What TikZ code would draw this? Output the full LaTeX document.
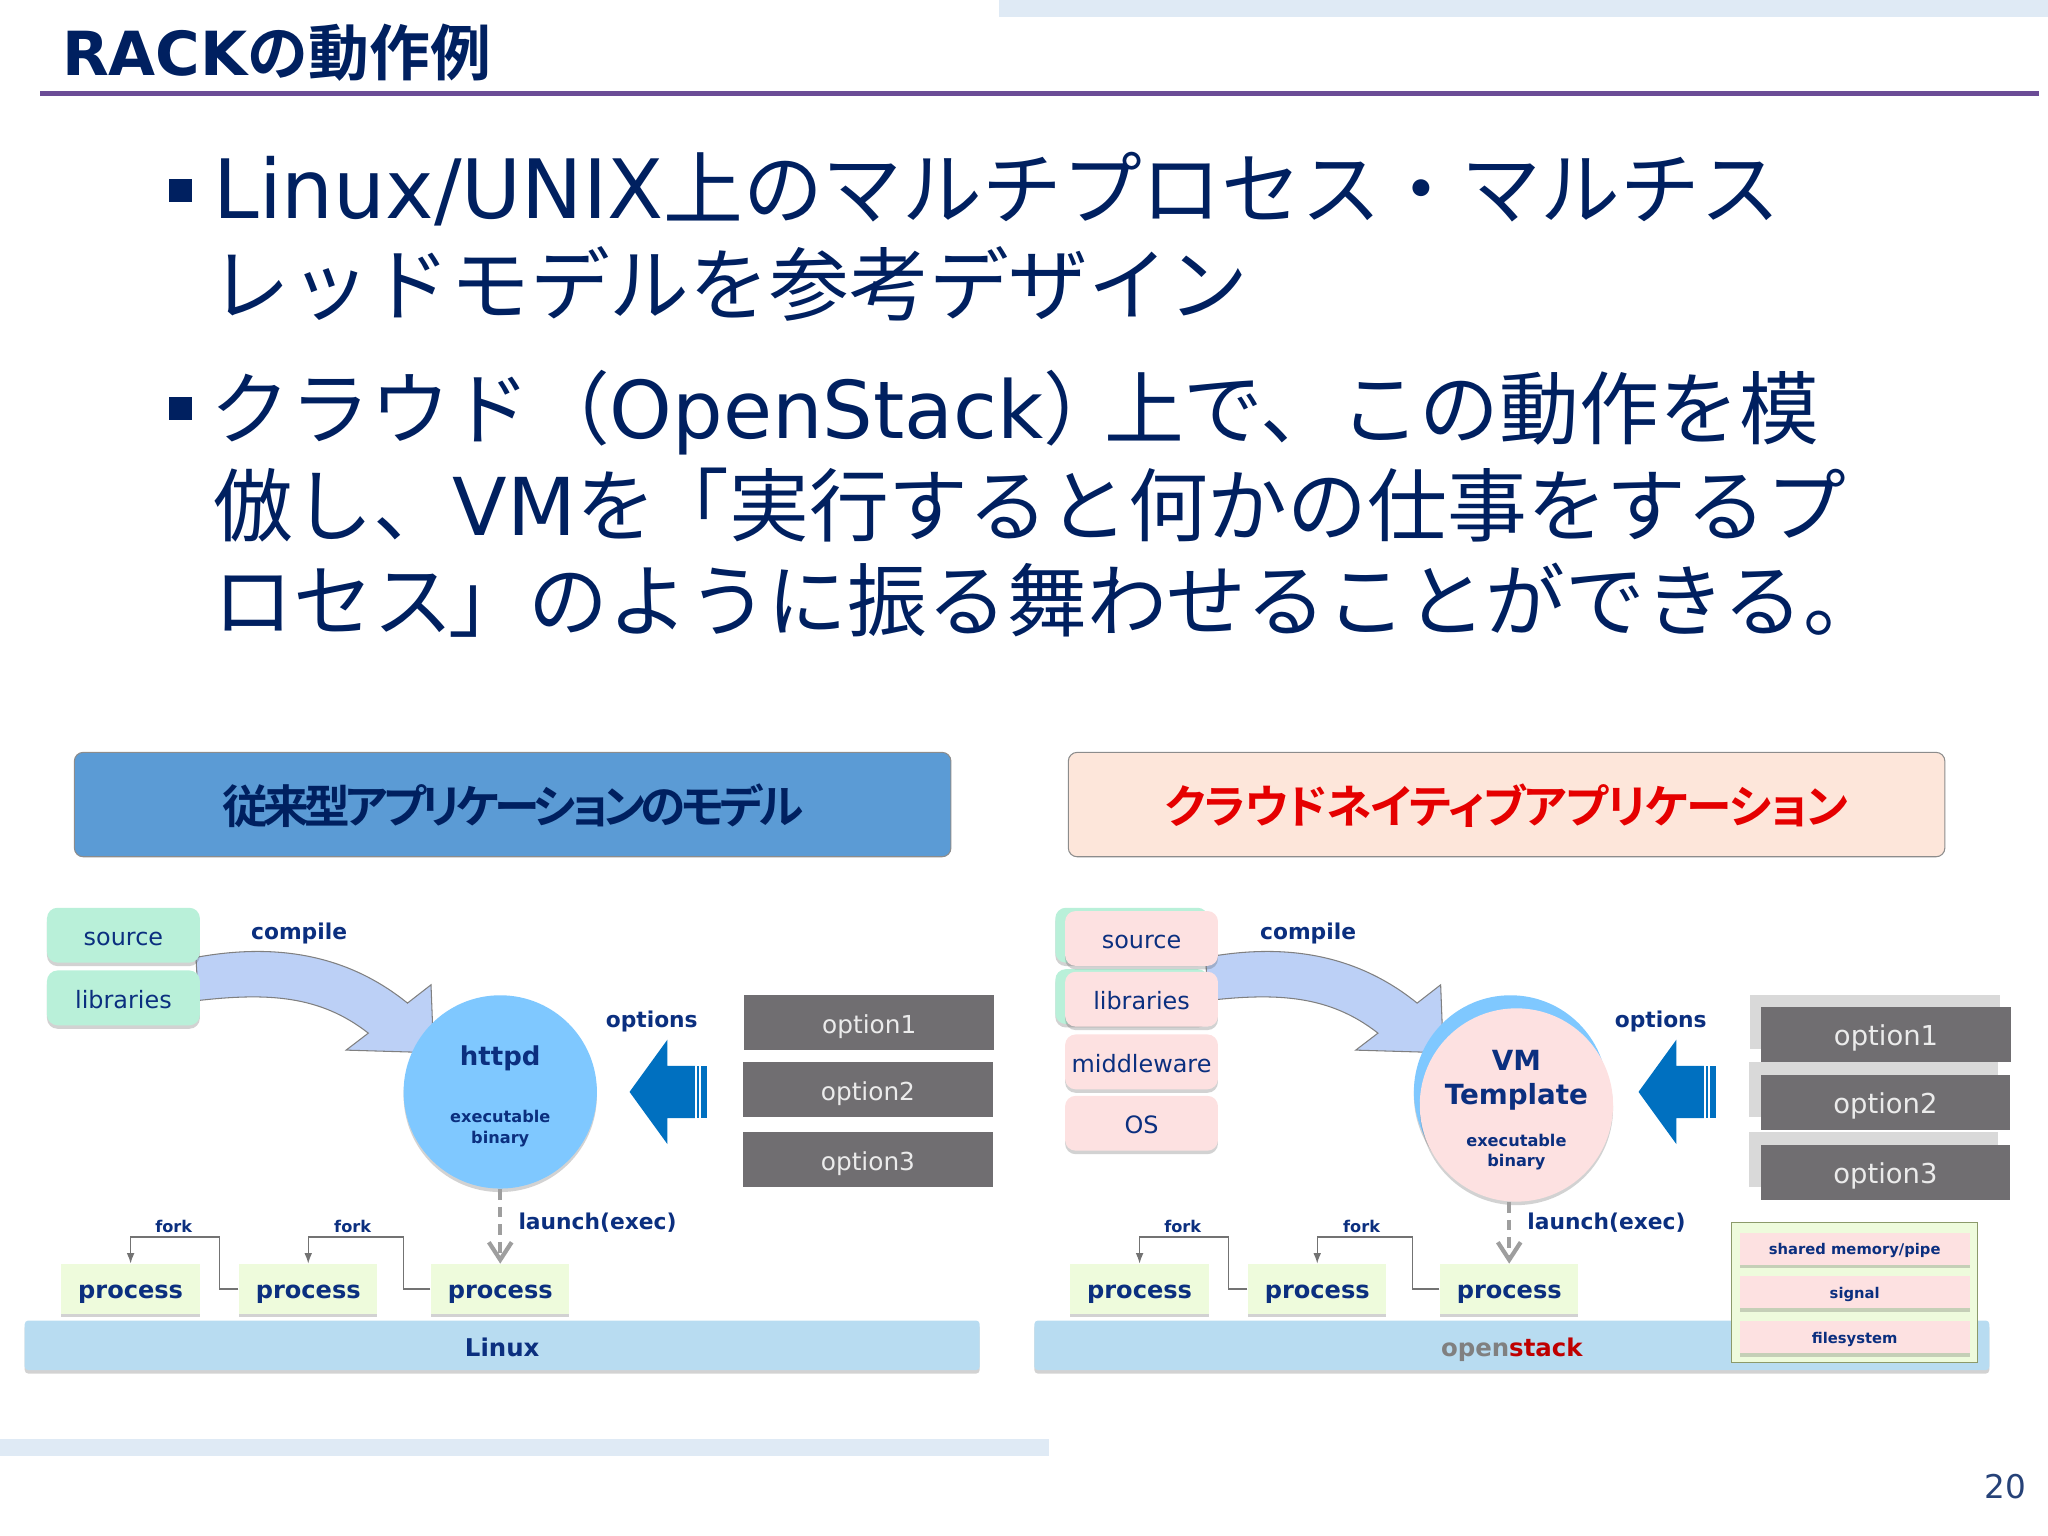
\documentclass[tikz,border=0pt]{standalone}
\usepackage{fontspec}
\usetikzlibrary{arrows.meta,shadows}
\setmainfont{DejaVu Sans}
\newfontfamily\cjk[BoldFont={Noto Sans CJK JP Bold}]{Noto Sans CJK JP}
\newfontfamily\cjkp[RawFeature=+palt,BoldFont={Noto Sans CJK JP Bold}]{Noto Sans CJK JP}
\definecolor{navy}{HTML}{002060}
\definecolor{ink}{HTML}{0B2F7F}
\definecolor{band}{HTML}{DFEAF5}
\definecolor{rule}{HTML}{6B4C96}
\definecolor{headblue}{HTML}{5B9BD5}
\definecolor{headpink}{HTML}{FDE6DA}
\definecolor{mint}{HTML}{B9F0D9}
\definecolor{pinkbox}{HTML}{FDE1E1}
\definecolor{sprout}{HTML}{EEFBDC}
\definecolor{sky}{HTML}{7FC8FF}
\definecolor{arrowfill}{HTML}{BCD0F6}
\definecolor{optdark}{HTML}{706E71}
\definecolor{optlight}{HTML}{D9D9D9}
\definecolor{arrowblue}{HTML}{0070C0}
\definecolor{osbar}{HTML}{B8DCF1}
\definecolor{olive}{HTML}{8C9A6A}
\begin{document}
\begin{tikzpicture}[>=latex, x=0.0130612cm, y=-0.0130612cm,
        softshadow/.style={drop shadow={shadow xshift=0pt, shadow yshift=-1pt, opacity=.25, fill=black!70}},
        bodyline/.style={anchor=base west, inner sep=0pt, text=navy, font=\fontsize{22.7}{26}\selectfont},
        bullet/.style={fill=navy, inner sep=0pt, minimum size=6.5pt},
        headbox/.style={draw=black!45, line width=.3pt, rounded corners=2.5pt, minimum width=249.4pt, minimum height=29.7pt, text height=11pt, text depth=0pt, font=\cjkp\bfseries\fontsize{13}{15}\selectfont},
        srcbox/.style={fill=mint, rounded corners=3pt, minimum width=43.5pt, minimum height=15.6pt, inner sep=0pt, text height=6pt, text depth=0pt, text=ink, font=\fontsize{6.8}{8}\selectfont, softshadow},
        pinksrc/.style={srcbox, fill=pinkbox},
        optbox/.style={fill=optdark, minimum width=71pt, minimum height=15.6pt, inner sep=0pt, text height=6.2pt, text depth=0pt, text=white!92!black, font=\fontsize{7.05}{8}\selectfont},
        optback/.style={fill=optlight, minimum width=71pt, minimum height=15.6pt, inner sep=0pt},
        bigopt/.style={optbox, font=\fontsize{7.8}{9}\selectfont},
        procbox/.style={fill=sprout, minimum width=39.4pt, minimum height=14.1pt, inner sep=0pt, text height=5.5pt, text depth=0pt, text=ink, font=\bfseries\fontsize{6.85}{8}\selectfont, softshadow},
        osbox/.style={fill=osbar, rounded corners=1pt, minimum width=271.7pt, minimum height=14.1pt, inner sep=0pt, text height=6.2pt, text depth=0pt, text=ink, font=\bfseries\fontsize{6.95}{8}\selectfont, softshadow},
        disc/.style={circle, fill=sky, minimum size=55pt, inner sep=0pt, softshadow},
        ipcbox/.style={fill=pinkbox, minimum width=65.4pt, minimum height=9.1pt, inner sep=0pt, text height=3.3pt, text depth=0pt, text=ink, font=\bfseries\fontsize{4.2}{5}\selectfont, softshadow},
        biglabel/.style={text=ink, inner sep=0pt, font=\bfseries\fontsize{6.2}{7}\selectfont},
        smalllabel/.style={text=ink, inner sep=0pt, font=\bfseries\fontsize{4.6}{6}\selectfont},
        forkline/.style={draw=black!55, line width=.4pt, -{Latex[length=3pt, width=2.2pt]}},
        launchline/.style={draw=black!38, line width=1.2pt, dash pattern=on 3pt off 2pt, -{Straight Barb[length=5pt, width=6.5pt]}},
        bendarrow/.style={fill=arrowfill, draw=black!50, line width=.3pt}]
    \useasboundingbox (0, 0) rectangle (1568, 1176);
    % title and bands
    \fill[band] (765, 0) rectangle (1568, 13);
    \fill[band] (0, 1102) rectangle (803, 1115);
    \node[anchor=base west, inner sep=0pt, text=navy, font=\bfseries\fontsize{17.3}{20}\selectfont](title) at (47, 58){RACK{\cjk の動作例}};
    \fill[rule] (31, 70) rectangle (1561, 73.5);
    \node[text=navy!85!white, inner sep=0pt, font=\fontsize{9.3}{11}\selectfont](pageno) at (1535.5, 1138){20};
    % body text
    \node[bullet](bula) at (138, 146){};
    \node[bodyline](linea) at (163, 167){{\fontsize{23.3}{26}\selectfont Linux/UNIX}{\cjk 上のマルチプロセス・マルチス}};
    \node[bodyline](lineb) at (161, 241){\cjk レッドモデルを参考デザイン};
    \node[bullet](bulb) at (138, 313){};
    \node[bodyline](linec) at (161, 336){{\cjk クラウド（}OpenStack{\cjk ）\hspace{-5.6pt}上で、この動作を模}};
    \node[bodyline](lined) at (163, 410){{\cjk 倣し、}VM{\cjk を\hspace{-1.9pt}「実行すると何かの仕事をするプ}};
    \node[bodyline](linee) at (163, 482.5){\cjk ロセス\hspace{-1.2pt}」のように振る舞わせることができる。};
    % heads
    \node[headbox, fill=headblue, text=navy](headl) at (392.5, 616){\addfontfeature{LetterSpace=-10}従来型アプリケーションのモデル};
    \node[headbox, fill=headpink, text=red!90!black](headr) at (1153.5, 616){\addfontfeature{LetterSpace=-2.5}クラウドネイティブアプリケーション};
    % left: compile
    \draw[bendarrow] (150, 733) .. controls (210, 722) and (265, 730) .. (312, 768)
        -- (330, 754) -- (332, 806) -- (265, 804) -- (282, 791)
        .. controls (245, 762) and (205, 760) .. (152, 766) -- cycle;
    \node[srcbox](srcl) at (94.5, 716){source};
    \node[srcbox](libl) at (94.5, 764){libraries};
    \node[biglabel](compl) at (229, 715){compile};
    \node[disc](httpd) at (383, 836){};
    \node[text=ink, inner sep=0pt, font=\bfseries\fontsize{7.4}{9}\selectfont](httpdt) at (383, 810){httpd};
    \node[smalllabel, align=center, font=\bfseries\fontsize{4.6}{5.9}\selectfont](exel) at (383, 864){executable\\binary};
    \node[biglabel](optsl) at (499, 782){options};
    % left: option arrow
    \fill[arrowblue] (482, 836) -- (511, 796) -- (511, 816) -- (532, 816) -- (532, 856) -- (511, 856) -- (511, 876) -- cycle;
    \fill[arrowblue] (533.5, 816) rectangle (535.5, 856);
    \fill[arrowblue] (537, 816) rectangle (541, 856);
    \node[optbox](opta) at (665.5, 783){option1};
    \node[optbox](optb) at (664.5, 834){option2};
    \node[optbox](optc) at (664.5, 888){option3};
    % left: processes
    \node[osbox](linux) at (384.5, 1030){Linux};
    \node[procbox](proca) at (100, 987){process};
    \node[procbox](procb) at (236, 987){process};
    \node[procbox](procc) at (383, 987){process};
    \coordinate (forka) at (168, 947);
    \coordinate (forkb) at (309, 947);
    \draw[forkline] (procb.west) -| (forka) -| (proca.north);
    \draw[forkline] (procc.west) -| (forkb) -| (procb.north);
    \node[smalllabel](forkla) at (133, 939){fork};
    \node[smalllabel](forklb) at (270, 939){fork};
    \draw[launchline] (httpd.south) -- (procc.north);
    \node[biglabel](launl) at (457.5, 936){launch(exec)};
    % right: compile
    \draw[bendarrow] (923, 733) .. controls (983, 722) and (1038, 730) .. (1085, 768)
        -- (1103, 754) -- (1105, 806) -- (1038, 804) -- (1055, 791)
        .. controls (1018, 762) and (978, 760) .. (925, 766) -- cycle;
    \node[srcbox](srcg) at (866.5, 716){};
    \node[srcbox](libg) at (866.5, 763){};
    \node[pinksrc](srcr) at (874, 718.5){source};
    \node[pinksrc](libr) at (874, 765){libraries};
    \node[pinksrc](midr) at (874, 813){middleware};
    \node[pinksrc](osr) at (874, 860){OS};
    \node[biglabel](compr) at (1001.5, 715){compile};
    \node[disc](vmback) at (1156.5, 836){};
    \node[disc, fill=pinkbox](vm) at (1161, 846){};
    \node[text=ink, inner sep=0pt, align=center, font=\bfseries\fontsize{7.9}{9.7}\selectfont](vmt) at (1161, 827){VM\\Template};
    \node[smalllabel, align=center, font=\bfseries\fontsize{4.6}{5.7}\selectfont](exer) at (1161, 882){executable\\binary};
    \node[biglabel](optsr) at (1271.5, 782){options};
    % right: option arrow
    \fill[arrowblue] (1254.5, 836) -- (1283.5, 796) -- (1283.5, 816) -- (1304.5, 816) -- (1304.5, 856) -- (1283.5, 856) -- (1283.5, 876) -- cycle;
    \fill[arrowblue] (1306, 816) rectangle (1308, 856);
    \fill[arrowblue] (1309.5, 816) rectangle (1313.5, 856);
    \node[optback](optla) at (1435.5, 782.5){};
    \node[optback](optlb) at (1434.5, 834){};
    \node[optback](optlc) at (1434.5, 888){};
    \node[bigopt](optra) at (1444, 792){option1};
    \node[bigopt](optrb) at (1443.5, 844){option2};
    \node[bigopt](optrc) at (1443.5, 898){option3};
    % right: processes
    \node[osbox](ostack) at (1157.5, 1030){{\color{black!50}open}{\color{red!75!black}stack}};
    \node[procbox](procd) at (872.5, 987){process};
    \node[procbox](proce) at (1008.5, 987){process};
    \node[procbox](procf) at (1155.5, 987){process};
    \coordinate (forkc) at (940.5, 947);
    \coordinate (forkd) at (1081.5, 947);
    \draw[forkline] (proce.west) -| (forkc) -| (procd.north);
    \draw[forkline] (procf.west) -| (forkd) -| (proce.north);
    \node[smalllabel](forklc) at (905.5, 939){fork};
    \node[smalllabel](forkld) at (1042.5, 939){fork};
    \draw[launchline] (procf.north |- vm.south) -- (procf.north);
    \node[biglabel](launr) at (1230, 936){launch(exec)};
    % ipc panel
    \node[fill=sprout, draw=olive, line width=.35pt, minimum width=69.9pt, minimum height=39.8pt, inner sep=0pt](panel) at (1420, 989.5){};
    \node[ipcbox](ipca) at (1420, 956){shared memory/pipe};
    \node[ipcbox](ipcb) at (1420, 989.5){signal};
    \node[ipcbox](ipcc) at (1420, 1024){filesystem};
\end{tikzpicture}
\end{document}
